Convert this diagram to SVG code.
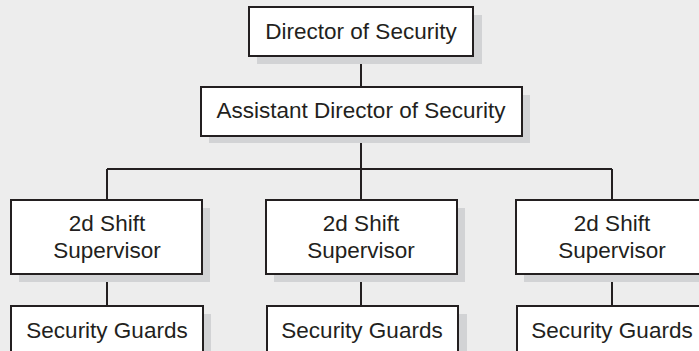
<svg xmlns="http://www.w3.org/2000/svg" width="699" height="351" viewBox="0 0 699 351">
<style>
.bg{fill:#ededed}
.sh{fill:#d2d3d5}
.bx{fill:#ffffff;stroke:#231f20;stroke-width:2}
.ln{stroke:#231f20;stroke-width:2;fill:none}
text{font-family:"Liberation Sans",Arial,sans-serif;font-size:22.5px;fill:#231f20;text-anchor:middle}
</style>
<rect class="bg" x="0" y="0" width="699" height="351"/>
<g id="connectors">
<path class="ln" d="M361 56V88M361 136V169M107 169H612M107 169V200M361 169V200M612 169V200M107 274V306M361 274V306M612 274V306"/>
</g>
<g id="director">
<rect class="sh" x="257" y="15" width="225" height="49"/>
<rect class="bx" x="249" y="7" width="224" height="49"/>
<text x="361" y="38.5">Director of Security</text>
</g>
<g id="assistant">
<rect class="sh" x="209" y="95" width="321" height="48"/>
<rect class="bx" x="201" y="87" width="321" height="49"/>
<text x="361" y="118">Assistant Director of Security</text>
</g>
<g id="sup1">
<rect class="sh" x="19" y="208" width="191" height="74"/>
<rect class="bx" x="11" y="200" width="191" height="74"/>
<text x="107" y="230.5">2d Shift</text>
<text x="107" y="257.5">Supervisor</text>
</g>
<g id="sup2">
<rect class="sh" x="274" y="208" width="191" height="74"/>
<rect class="bx" x="266" y="200" width="191" height="74"/>
<text x="361" y="230.5">2d Shift</text>
<text x="361" y="257.5">Supervisor</text>
</g>
<g id="sup3">
<rect class="sh" x="524" y="208" width="191" height="74"/>
<rect class="bx" x="516" y="200" width="191" height="74"/>
<text x="612" y="230.5">2d Shift</text>
<text x="612" y="257.5">Supervisor</text>
</g>
<g id="guards1">
<rect class="sh" x="19" y="314" width="192" height="60"/>
<rect class="bx" x="11" y="306" width="192" height="60"/>
<text x="107" y="337.5">Security Guards</text>
</g>
<g id="guards2">
<rect class="sh" x="275" y="314" width="192" height="60"/>
<rect class="bx" x="267" y="306" width="191" height="60"/>
<text x="362" y="337.5">Security Guards</text>
</g>
<g id="guards3">
<rect class="sh" x="525" y="314" width="192" height="60"/>
<rect class="bx" x="517" y="306" width="192" height="60"/>
<text x="612" y="337.5">Security Guards</text>
</g>
</svg>
